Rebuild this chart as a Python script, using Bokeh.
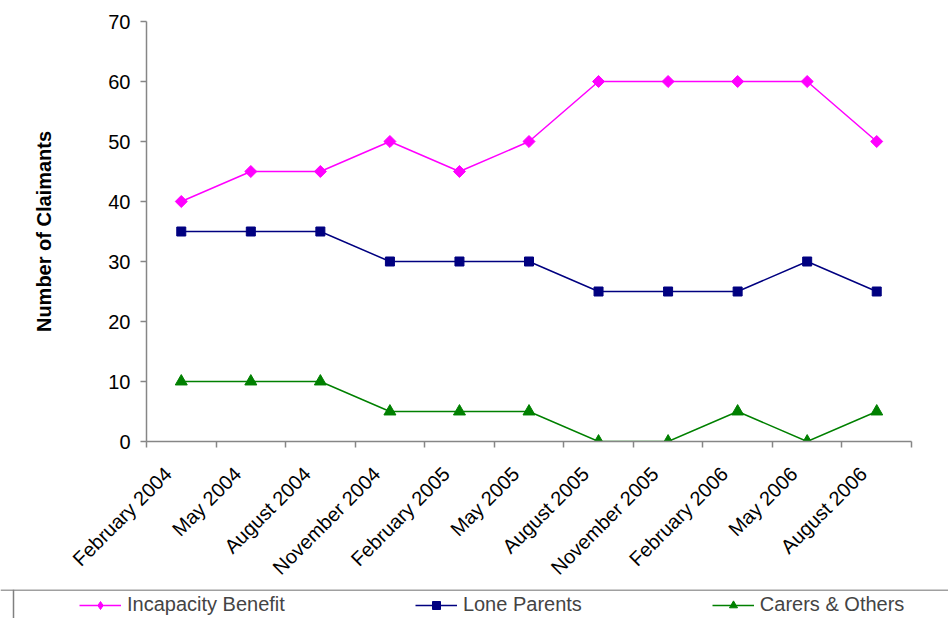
import math
from bokeh.plotting import figure
from bokeh.layouts import column
from bokeh.models import (Range1d, FixedTicker, Legend, LegendItem, Span)
from bokeh.embed import file_html
from bokeh.resources import INLINE

categories = ["February 2004", "May 2004", "August 2004", "November 2004",
              "February 2005", "May 2005", "August 2005", "November 2005",
              "February 2006", "May 2006", "August 2006"]
incapacity_benefit = [40, 45, 45, 50, 45, 50, 60, 60, 60, 60, 50]
lone_parents = [35, 35, 35, 30, 30, 30, 25, 25, 25, 30, 25]
carers_others = [10, 10, 10, 5, 5, 5, 0, 0, 5, 0, 5]
series_names = ["Incapacity Benefit", "Lone Parents", "Carers & Others"]
y_ticks = [0, 10, 20, 30, 40, 50, 60, 70]

FONT = "Liberation Sans"
AXIS_COLOR = "#868686"
COLORS = ["#FF00FF", "#000080", "#008000"]
MARKERS = [("square", 8.5, math.pi / 4), ("square", 9, 0), ("triangle", 12, 0)]
LEGEND_MARKERS = [("diamond", 14, 0), ("square", 9, 0), ("triangle", 12, 0)]

xs = [i + 0.5 for i in range(len(categories))]
label_pos = [i + 0.31 for i in range(len(categories))]
series = [incapacity_benefit, lone_parents, carers_others]

p = figure(width=948, height=589, output_backend="svg", toolbar_location=None,
           x_range=Range1d(0, len(categories)), y_range=Range1d(0, 70),
           min_border_left=146, min_border_right=37, min_border_top=21,
           min_border_bottom=148, frame_align=False)
p.outline_line_color = None
p.xgrid.visible = False
p.ygrid.visible = False
p.background_fill_color = "white"
p.border_fill_color = "white"

for ys, col, (mk, sz, ang) in zip(series, COLORS, MARKERS):
    p.line(xs, ys, line_color=col, line_width=1.5)
    p.scatter(xs, ys, marker=mk, size=sz, angle=ang,
              fill_color=col, line_color=col)

# x axis: labels at centres, ticks at boundaries
xa = p.xaxis[0]
xa.ticker = FixedTicker(ticks=label_pos, minor_ticks=list(range(len(categories) + 1)))
xa.major_label_overrides = {x: c for x, c in zip(label_pos, categories)}
xa.major_label_orientation = math.pi / 4
xa.major_tick_line_color = None
xa.major_tick_out = 6
xa.major_tick_in = 0
xa.minor_tick_line_color = AXIS_COLOR
xa.minor_tick_out = 6
xa.minor_tick_in = 0
xa.minor_tick_line_width = 1.5
xa.axis_line_color = AXIS_COLOR
xa.axis_line_width = 1.5
xa.major_label_text_font = FONT
xa.major_label_text_font_size = "20px"
xa.major_label_text_color = "black"
xa.major_label_standoff = 23

ya = p.yaxis[0]
ya.ticker = FixedTicker(ticks=y_ticks, minor_ticks=[])
ya.major_tick_line_color = AXIS_COLOR
ya.major_tick_line_width = 1.5
ya.major_tick_out = 6
ya.major_tick_in = 0
ya.axis_line_color = AXIS_COLOR
ya.axis_line_width = 1.5
ya.major_label_text_font = FONT
ya.major_label_text_font_size = "20px"
ya.major_label_text_color = "black"
ya.major_label_standoff = 10
ya.axis_label = "Number of Claimants"
ya.axis_label_text_font = FONT
ya.axis_label_text_font_size = "20px"
ya.axis_label_text_font_style = "bold"
ya.axis_label_text_color = "black"
ya.axis_label_standoff = 50

# legend strip: a second figure whose frame is the whole strip
lg = figure(width=948, height=29, output_backend="svg", toolbar_location=None,
            x_range=Range1d(0, 948), y_range=Range1d(200, 229),
            min_border_left=0, min_border_right=0, min_border_top=0,
            min_border_bottom=0, frame_align=False)
lg.axis.visible = False
lg.grid.visible = False
lg.outline_line_color = None
lg.background_fill_color = "white"
lg.border_fill_color = "white"

items = []
for name, ys, col, (mk, sz, ang) in zip(series_names, series, COLORS, LEGEND_MARKERS):
    # same series drawn outside the strip's visible range: only used as legend glyphs
    r1 = lg.line(xs, ys, line_color=col, line_width=1.5)
    r2 = lg.scatter(xs, ys, marker=mk, size=sz, angle=ang,
                    fill_color=col, line_color=col)
    items.append(LegendItem(label=name, renderers=[r1, r2]))

lg.add_layout(Span(location=228.6, dimension="width", line_color="#808080",
                   line_width=1.5))
lg.add_layout(Span(location=13, dimension="height", line_color="#808080",
                   line_width=1.5))

legend = Legend(items=items, location=(79, 2), orientation="horizontal",
                padding=0, spacing=130, label_standoff=6, glyph_width=42,
                glyph_height=20, label_height=20,
                label_text_font=FONT, label_text_font_size="20px",
                border_line_alpha=0, background_fill_alpha=0)
lg.add_layout(legend, "center")

layout = column(p, lg, spacing=0)
open("out.html", "w").write(file_html(layout, INLINE))
